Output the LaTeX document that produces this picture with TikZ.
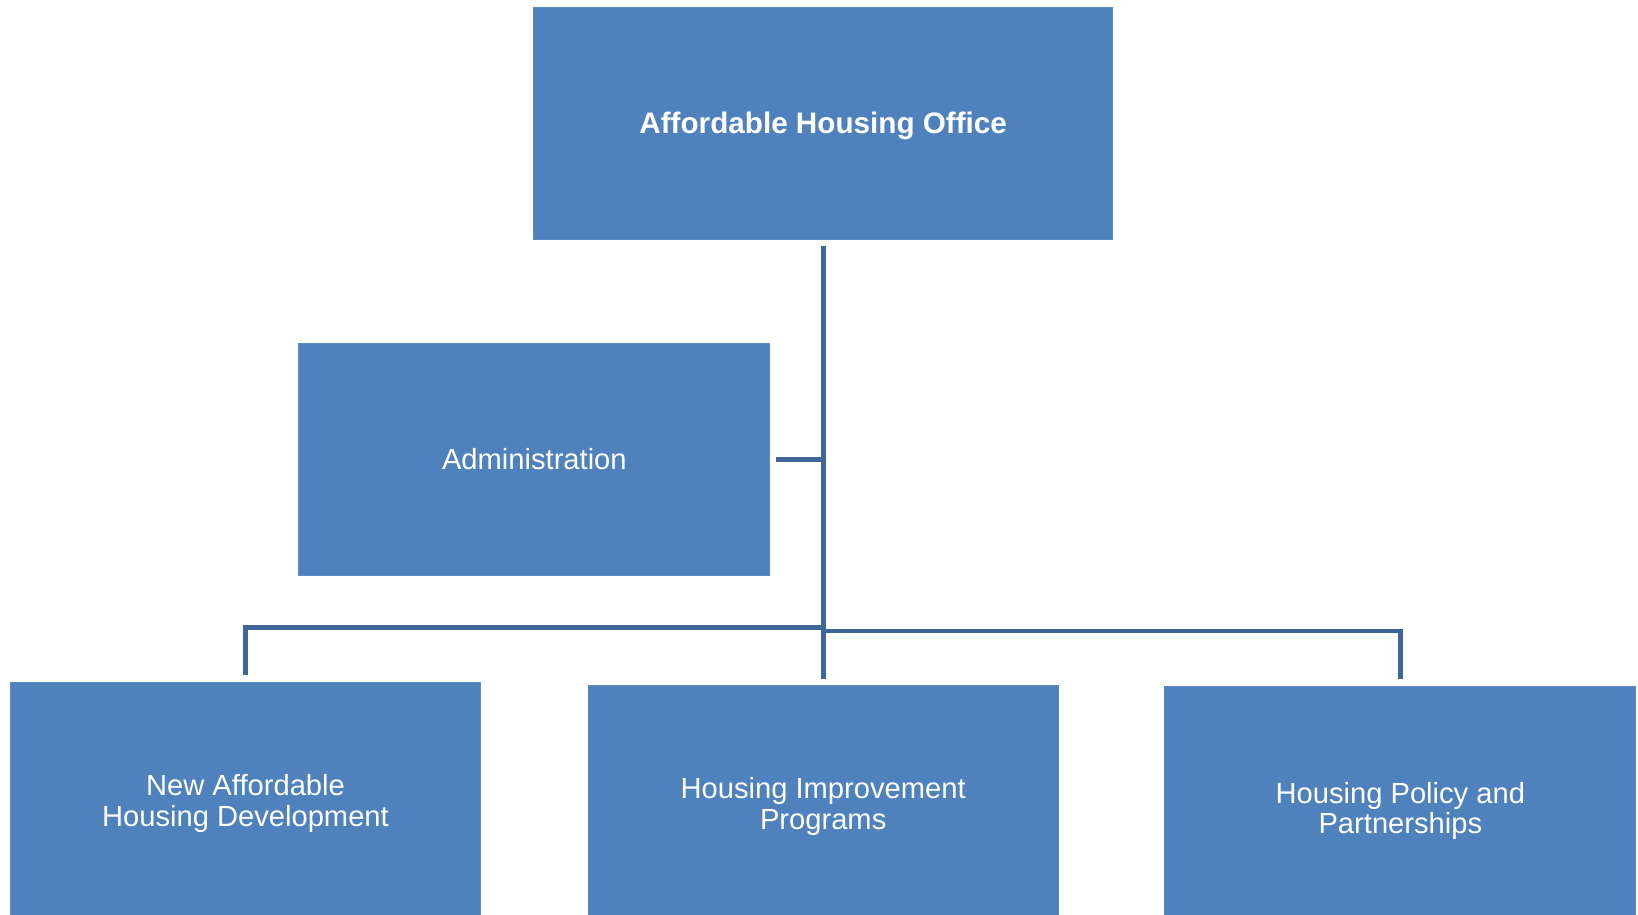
\documentclass[tikz,border=0pt]{standalone}
\usepackage{fontspec}
\setmainfont{Liberation Sans}
\definecolor{boxblue}{HTML}{4F81BD}
\definecolor{boxedge}{HTML}{5A8AC4}
\definecolor{linkblue}{HTML}{3F6698}
\begin{document}
\begin{tikzpicture}[x=1pt,y=-1pt,
  unit/.style={rectangle, fill=boxblue, draw=boxedge, line width=1pt, inner sep=0pt,
    text=white, align=center, font=\fontsize{27.9}{29}\selectfont},
  link/.style={draw=linkblue, line width=4.6pt}]
\useasboundingbox (0,0) rectangle (1568,875);
\node[unit, minimum width=554, minimum height=222, text height=26.5pt, text depth=6pt, font=\fontsize{28.4}{29}\selectfont\bfseries] (top) at (788,118) {Affordable Housing Office};
\node[unit, minimum width=451, minimum height=222] (admin) at (511.5,439.5) {Administration};
\node[unit, minimum width=450, minimum height=232] (left) at (235,769) {New Affordable\\Housing Development};
\node[unit, minimum width=450, minimum height=232] (mid) at (788,772) {Housing Improvement\\Programs};
\node[unit, minimum width=451, minimum height=238] (right) at (1340.5,776) {Housing Policy and\\Partnerships};
\coordinate (jadmin) at (top.south |- admin.east);
\coordinate (jleft) at (788,601);
\coordinate (jright) at (788,604);
\draw[link] ([yshift=-6]top.south) -- ([yshift=6]mid.north);
\draw[link] ([xshift=5]admin.east) -- ([xshift=2]jadmin);
\draw[link] ([yshift=6]left.north) |- ([xshift=2]jleft);
\draw[link] ([yshift=7]right.north) |- ([xshift=-2]jright);
\end{tikzpicture}
\end{document}
